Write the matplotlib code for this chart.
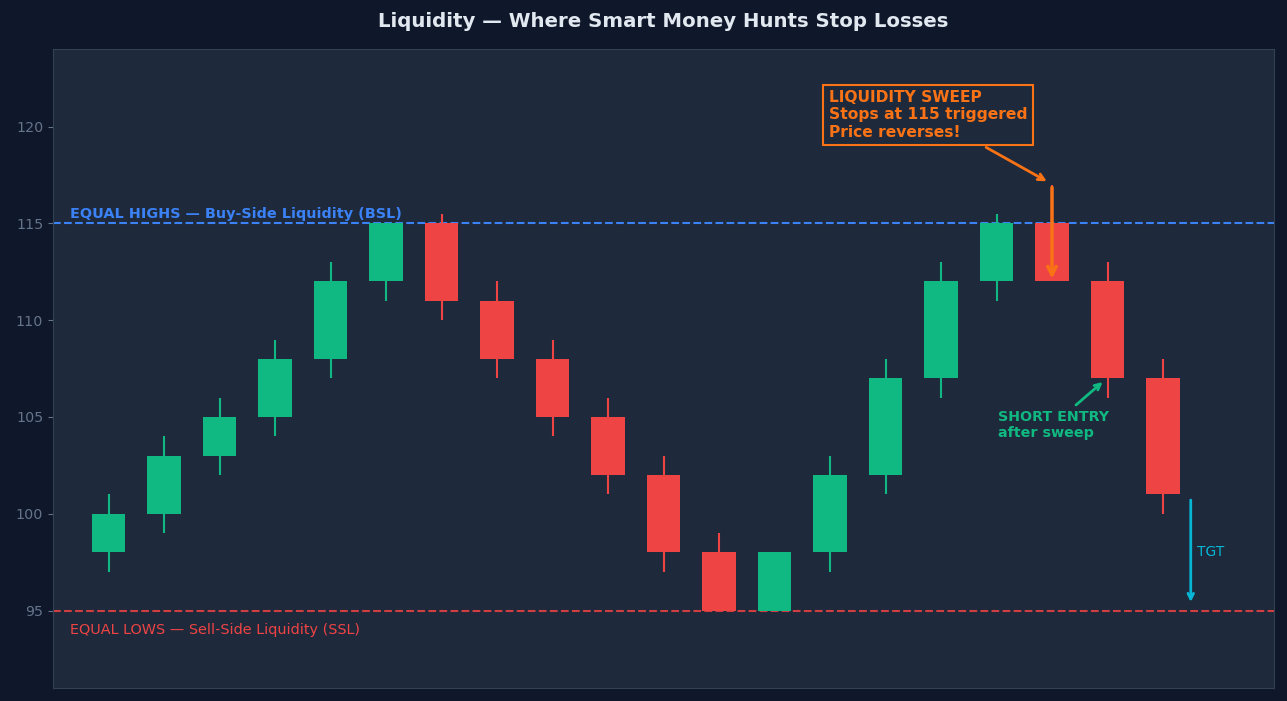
import matplotlib
matplotlib.use('Agg')
import matplotlib.pyplot as plt
from matplotlib.patches import Rectangle

# OHLC candles
opens  = [98, 100, 103, 105, 108, 112, 115, 111, 108, 105, 102, 98, 95, 98, 102, 107, 112, 115, 112, 107]
highs  = [101, 104, 106, 109, 113, 115, 115.5, 112, 109, 106, 103, 99, 98, 103, 108, 113, 115.5, 117, 113, 108]
lows   = [97, 99, 102, 104, 107, 111, 110, 107, 104, 101, 97, 95, 95, 97, 101, 106, 111, 112, 106, 100]
closes = [100, 103, 105, 108, 112, 115, 111, 108, 105, 102, 98, 95, 98, 102, 107, 112, 115, 112, 107, 101]

bsl_level = 115
ssl_level = 95
sweep_idx = 17
entry_idx = 18
target_from = 100.85
target_to = 95.3

BG = '#0f172a'
PANEL = '#1e293b'
GREEN = '#10b981'
RED = '#ef4444'
BLUE = '#3b82f6'
ORANGE = '#f97316'
CYAN = '#06b6d4'

fig = plt.figure(figsize=(12.87, 7.01), dpi=100, facecolor=BG)
ax = fig.add_axes([0.0412, 0.0185, 0.9487, 0.9115])
ax.set_facecolor(PANEL)

w = 0.6
for i, (o, h, l, c) in enumerate(zip(opens, highs, lows, closes)):
    col = GREEN if c >= o else RED
    ax.plot([i, i], [l, h], color=col, lw=1.5, solid_capstyle='butt', zorder=2)
    ax.add_patch(Rectangle((i - w / 2, min(o, c)), w, abs(c - o),
                           facecolor=col, edgecolor='none', zorder=3))

ax.axhline(bsl_level, color=BLUE, ls='--', lw=1.5, zorder=1)
ax.axhline(ssl_level, color=RED, ls='--', lw=1.5, zorder=1, alpha=0.85)

ax.text(-0.7, bsl_level + 0.1, 'EQUAL HIGHS — Buy-Side Liquidity (BSL)',
        color=BLUE, fontsize=10.4, fontweight='bold', va='bottom', ha='left')
ax.text(-0.7, ssl_level - 0.62, 'EQUAL LOWS — Sell-Side Liquidity (SSL)',
        color=RED, fontsize=10.4, va='top', ha='left')

# liquidity sweep callout
ax.annotate('LIQUIDITY SWEEP\nStops at 115 triggered\nPrice reverses!',
            xy=(sweep_idx - 0.05, highs[sweep_idx] + 0.1), xytext=(12.98, 120.6),
            color=ORANGE, fontsize=11.2, fontweight='bold', ha='left', va='center',
            bbox=dict(boxstyle='square,pad=0.35', facecolor=PANEL, edgecolor=ORANGE, lw=1.5),
            arrowprops=dict(arrowstyle='->', color=ORANGE, lw=2))
ax.annotate('', xy=(sweep_idx, 112.0), xytext=(sweep_idx, highs[sweep_idx]),
            arrowprops=dict(arrowstyle='->', color=ORANGE, lw=2.5, mutation_scale=15))

# short entry
ax.annotate('SHORT ENTRY\nafter sweep', xy=(entry_idx - 0.05, 106.9), xytext=(16.02, 104.6),
            color=GREEN, fontsize=10.3, fontweight='bold', ha='left', va='center',
            arrowprops=dict(arrowstyle='->', color=GREEN, lw=2))

# target
ax.annotate('', xy=(19.5, target_to), xytext=(19.5, target_from),
            arrowprops=dict(arrowstyle='->', color=CYAN, lw=2))
ax.text(19.62, 98, 'TGT', color=CYAN, fontsize=10, va='center', ha='left')

ax.set_xlim(-1, 21)
ax.set_ylim(91, 124)
ax.set_yticks([95, 100, 105, 110, 115, 120])
ax.set_xticks([])
ax.tick_params(axis='y', colors='#64748b', labelsize=10.3)
for s in ax.spines.values():
    s.set_color('#334155')

ax.set_title('Liquidity — Where Smart Money Hunts Stop Losses',
             color='#e2e8f0', fontsize=14.2, fontweight='bold', pad=16)

fig.savefig('out.png', dpi=100, facecolor=BG)
